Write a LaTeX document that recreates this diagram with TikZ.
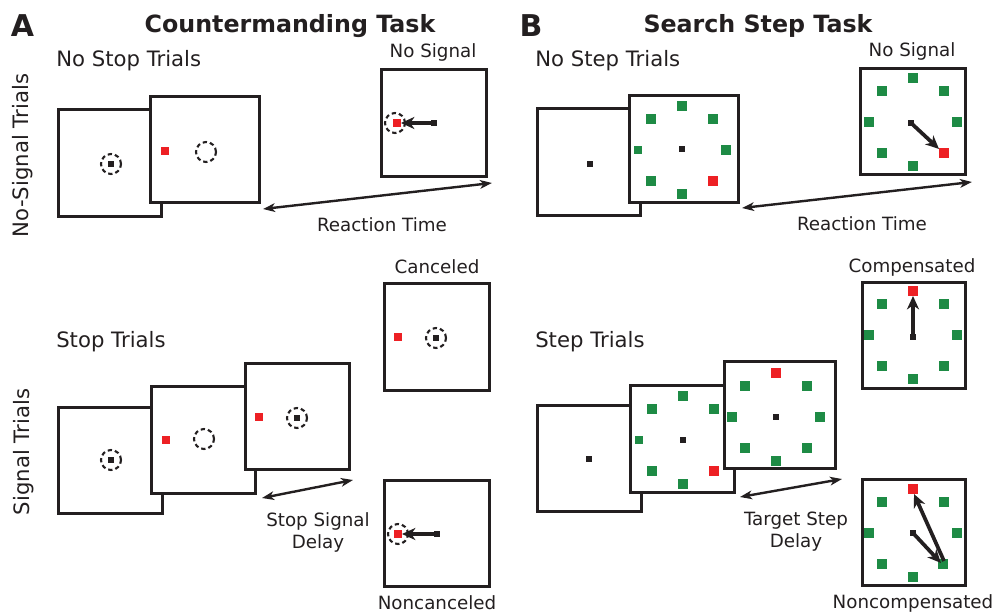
\documentclass[tikz,border=0pt]{standalone}
\usepackage{fontspec}
\setmainfont{DejaVu Sans}
\usetikzlibrary{arrows.meta,calc}
\definecolor{ink}{HTML}{231F20}
\definecolor{tgred}{HTML}{ED2024}
\definecolor{dgreen}{HTML}{1E8B45}
% small stimulus shapes drawn inside the screens
\newcommand\fixsq[1]{\fill[ink] (#1) +(-2.6,-2.6) rectangle +(2.6,2.6);}
\newcommand\redsq[1]{\fill[tgred] (#1) +(-4,-4) rectangle +(4,4);}
\newcommand\gazecircle[1]{\draw[gaze] (#1) circle[radius=7.5pt];}
% search array: dx/dy/colour/half-size around a centre
\newcommand\searchring[2]{%
  \foreach \dx/\dy/\col/\hs in {#2}
    \fill[fill=\col] ($(#1)+(\dx,\dy)$) +(-\hs,-\hs) rectangle +(\hs,\hs);}
\begin{document}
\begin{tikzpicture}[x=0.75pt,y=-0.75pt,
  screen/.style 2 args={draw=ink, line width=2.25pt, fill=white, inner sep=0pt,
    minimum width=#1*0.75pt-2.25pt, minimum height=#2*0.75pt-2.25pt},
  head/.style={font=\fontsize{15.9}{16.5}\selectfont, text=ink, inner sep=0pt},
  lbl/.style={font=\fontsize{13.7}{16.5}\selectfont, text=ink, inner sep=0pt},
  ttl/.style={font=\bfseries\fontsize{17.8}{20}\selectfont, text=ink, inner sep=0pt},
  panel/.style={font=\bfseries\fontsize{22.5}{24}\selectfont, text=ink, inner sep=0pt},
  gaze/.style={draw=ink, line width=1.6pt, dash pattern=on 3.2pt off 2.3pt},
  saccade/.style={draw=ink, line width=2.8pt, -{Stealth[length=10pt,width=9pt,inset=3pt]}},
  delay/.style={draw=ink, line width=1.8pt,
    {Stealth[length=9pt,width=6.5pt,inset=2.5pt]}-{Stealth[length=9pt,width=6.5pt,inset=2.5pt]}},
]
\useasboundingbox (0,0) rectangle (995,613);

% ---------------- headings ----------------
\node[panel] (pA) at (22.5,25.5) {A};
\node[ttl, anchor=base] (tA) at (290,33) {Countermanding Task};
\node[panel] (pB) at (531,26) {B};
\node[ttl, anchor=base] (tB) at (758,33) {Search Step Task};
\node[head, anchor=base, rotate=90] (rowNS) at (28.5,155.5) {No-Signal Trials};
\node[head, anchor=base, rotate=90] (rowS) at (29,452) {Signal Trials};

% ================= A: countermanding, no-stop trials =================
\node[head, anchor=base west] (nst) at (56,67) {No Stop Trials};
\node[screen={106}{110}] (a1) at (110,163) {};
\gazecircle{111,164} \fixsq{111,164}
\node[screen={112}{109}] (a2) at (205,149.5) {};
\redsq{165,151} \gazecircle{206,152}
\node[lbl, anchor=base] (nsigA) at (433,58) {No Signal};
\node[screen={108}{110}] (ans) at (434,123) {};
\coordinate (ansF) at (434,123);
\coordinate (ansT) at (401,123);
\gazecircle{395,123} \redsq{397,123} \fixsq{ansF}
\draw[saccade] (ansF) -- (ansT);
\coordinate (rtA1) at ($(a2.south east)+(2,5)$);
\coordinate (rtA2) at ($(ans.south east)+(4,5)$);
\draw[delay] (rtA1) -- (rtA2);
\node[lbl, anchor=base] (rtAl) at (382,231) {Reaction Time};

% ================= A: countermanding, stop trials =================
\node[head, anchor=base west] (stt) at (56,347) {Stop Trials};
\node[screen={107}{109}] (as1) at (110.5,460.5) {};
\gazecircle{111,460} \fixsq{111,460}
\node[screen={107}{110}] (as2) at (203.5,440) {};
\redsq{166,440} \gazecircle{204,439}
\node[screen={107}{109}] (as3) at (297.5,416.5) {};
\redsq{259,417} \gazecircle{297,418} \fixsq{297,418}
\coordinate (ssd1) at ($(as2.south east)+(5,3)$);
\coordinate (ssd2) at ($(as3.south east)+(2,9)$);
\draw[delay] (ssd1) -- (ssd2);
\node[lbl, align=center, anchor=north] (ssdl) at (318,512) {Stop Signal\\Delay};

\node[lbl, anchor=base] (canl) at (437,273) {Canceled};
\node[screen={108}{110}] (acan) at (437,337) {};
\redsq{398,337} \gazecircle{436,338} \fixsq{436,338}
\node[screen={108}{109}] (anon) at (437,533.5) {};
\coordinate (anonF) at (437,534);
\coordinate (anonT) at (402,534);
\gazecircle{398,534} \redsq{398,534} \fixsq{anonF}
\draw[saccade] (anonF) -- (anonT);
\node[lbl, anchor=base] (nonl) at (437,609) {Noncanceled};

% ================= B: search step, no-step trials =================
\node[head, anchor=base west] (nstep) at (535,67) {No Step Trials};
\node[screen={106}{110}] (b1) at (589,162) {};
\fixsq{590,164}
\node[screen={112}{110}] (b2) at (684,149) {};
\searchring{682,150}{0/-44/dgreen/5, -31/-31/dgreen/5, 31/-31/dgreen/5, -44/0/dgreen/4,
  44/0/dgreen/5, -31/31/dgreen/5, 0/44/dgreen/5, 31/31/tgred/5}
\fixsq{682,149}
\node[lbl, anchor=base] (nsigB) at (912,57) {No Signal};
\node[screen={108}{109}] (bns) at (913,121.5) {};
\searchring{913,122}{0/-44/dgreen/5, -31/-31/dgreen/5, 31/-31/dgreen/5, -44/0/dgreen/5,
  44/0/dgreen/5, -31/31/dgreen/5, 0/44/dgreen/5, 31/31/tgred/5}
\coordinate (bnsF) at (911,123);
\coordinate (bnsT) at (939,149);
\fixsq{bnsF}
\draw[saccade] (bnsF) -- (bnsT);
\coordinate (rtB1) at ($(b2.south east)+(2,4)$);
\coordinate (rtB2) at ($(bns.south east)+(5,6)$);
\draw[delay] (rtB1) -- (rtB2);
\node[lbl, anchor=base] (rtBl) at (862,230) {Reaction Time};

% ================= B: search step, step trials =================
\node[head, anchor=base west] (stept) at (535,347) {Step Trials};
\node[screen={107}{109}] (bs1) at (589.5,458.5) {};
\fixsq{589,459}
\node[screen={107}{110}] (bs2) at (682.5,439) {};
\searchring{683,440}{0/-44/dgreen/5, -31/-31/dgreen/5, 31/-31/dgreen/5, -44/0/dgreen/4,
  -31/31/dgreen/5, 0/44/dgreen/5, 31/31/tgred/5}
\fixsq{683,440}
\node[screen={114}{110}] (bs3) at (780,415) {};
\searchring{776,417}{0/-44/tgred/5, -31/-31/dgreen/5, 31/-31/dgreen/5, -44/0/dgreen/5,
  44/0/dgreen/5, -31/31/dgreen/5, 0/44/dgreen/5, 31/31/dgreen/5}
\fixsq{776,417}
\coordinate (tsd1) at ($(bs2.south east)+(4,3)$);
\coordinate (tsd2) at ($(bs3.south east)+(5,9)$);
\draw[delay] (tsd1) -- (tsd2);
\node[lbl, align=center, anchor=north] (tsdl) at (796,511.5) {Target Step\\Delay};

\node[lbl, anchor=base] (compl) at (912,272) {Compensated};
\node[screen={106}{109}] (bcomp) at (914,335.5) {};
\searchring{913,335}{0/-44/tgred/5, -31/-31/dgreen/5, 31/-31/dgreen/5, -44/0/dgreen/5,
  44/0/dgreen/5, -31/31/dgreen/5, 0/44/dgreen/5, 31/31/dgreen/5}
\coordinate (bcF) at (913,337);
\coordinate (bcT) at (913,296);
\fixsq{bcF}
\draw[saccade] (bcF) -- (bcT);

\node[screen={106}{109}] (bnon) at (914,532.5) {};
\searchring{913,533}{0/-44/tgred/5, -31/-31/dgreen/5, 31/-31/dgreen/5, -44/0/dgreen/5,
  44/0/dgreen/5, -31/31/dgreen/5, 0/44/dgreen/5, 30/31/dgreen/5}
\coordinate (bnF) at (913,533);
\coordinate (bnM) at (941,563);
\coordinate (bnS) at (944,561);
\coordinate (bnT) at (914,494);
\fixsq{bnF}
\draw[saccade] (bnF) -- (bnM);
\draw[saccade] (bnS) -- (bnT);
\node[lbl, anchor=base] (noncl) at (913,608) {Noncompensated};
\end{tikzpicture}
\end{document}
